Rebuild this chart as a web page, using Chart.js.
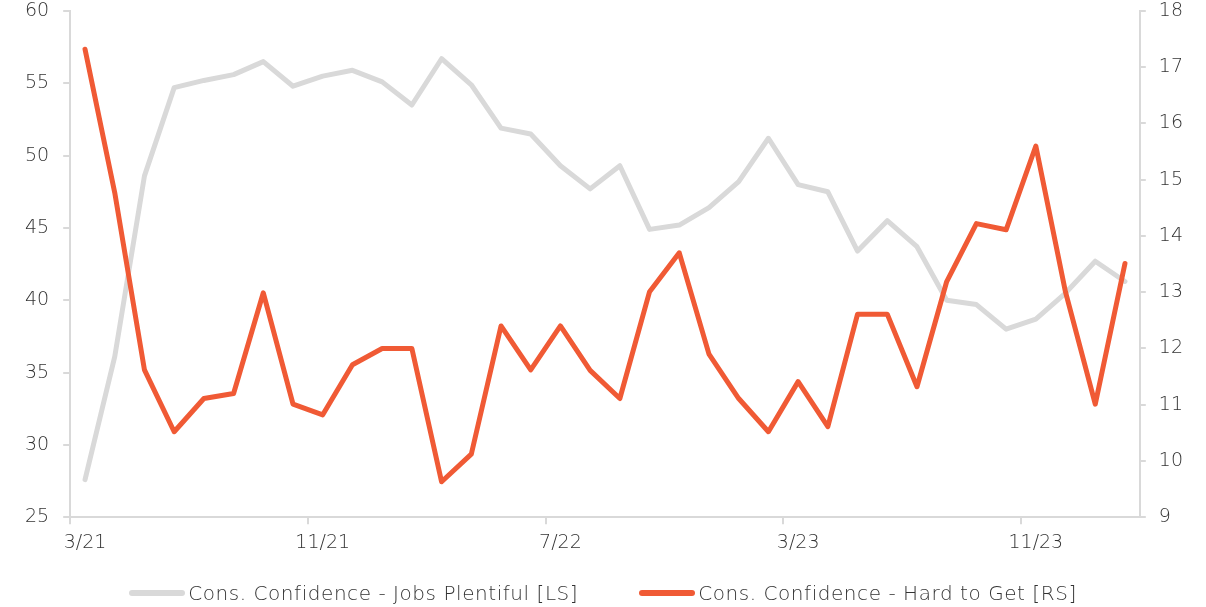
<!DOCTYPE html>
<html>
<head>
<meta charset="utf-8">
<script src="https://cdn.jsdelivr.net/npm/chart.js@4/dist/chart.umd.min.js"></script>
<style>
html,body{margin:0;padding:0;background:#fff;}
#wrap{width:1206px;height:607px;position:relative;}
#legend{position:absolute;left:0;top:580px;width:1206px;height:26px;display:flex;justify-content:center;align-items:center;gap:61px;
  font-family:'DejaVu Sans',sans-serif;font-weight:200;font-size:20px;letter-spacing:0.55px;color:#333;white-space:nowrap;}
#legend .item{display:flex;align-items:center;}
#legend .sw{display:inline-block;width:56px;height:6px;border-radius:3px;margin-right:3px;}
</style>
</head>
<body>
<div id="wrap"><canvas id="c" width="1206" height="607"></canvas><div id="legend"></div></div>
<script>
const labels = ["3/21","4/21","5/21","6/21","7/21","8/21","9/21","10/21","11/21","12/21",
  "1/22","2/22","3/22","4/22","5/22","6/22","7/22","8/22","9/22","10/22","11/22","12/22",
  "1/23","2/23","3/23","4/23","5/23","6/23","7/23","8/23","9/23","10/23","11/23","12/23",
  "1/24","2/24"];
const jobsPlentiful = [27.6,36.1,48.6,54.7,55.2,55.6,56.5,54.8,55.5,55.9,
  55.1,53.5,56.7,54.9,51.9,51.5,49.3,47.7,49.3,44.9,45.2,46.4,
  48.2,51.2,48.0,47.5,43.4,45.5,43.7,40.0,39.7,38.0,38.7,40.5,
  42.7,41.3];
const hardToGet = [17.32,14.77,11.62,10.52,11.11,11.20,12.99,11.01,10.82,11.71,
  12.0,12.0,9.63,10.12,12.40,11.62,12.40,11.61,11.11,13.01,13.70,11.90,
  11.11,10.52,11.41,10.61,12.61,12.61,11.32,13.19,14.22,14.11,15.60,13.0,
  11.01,13.51];
const labelEvery = 8;

const GRAY = '#d9d9d9';
const ORANGE = '#f05a35';
const TXT = '#333333';
const FONT = "'DejaVu Sans', sans-serif";
const tickFont = {family: FONT, size: 19, weight: 200};

const htmlLegend = {
  id: 'htmlLegend',
  afterUpdate(chart) {
    const box = document.getElementById('legend');
    box.innerHTML = '';
    chart.data.datasets.forEach((ds) => {
      const item = document.createElement('div');
      item.className = 'item';
      const sw = document.createElement('span');
      sw.className = 'sw';
      sw.style.background = ds.borderColor;
      const tx = document.createElement('span');
      tx.textContent = ds.label;
      item.appendChild(sw); item.appendChild(tx);
      box.appendChild(item);
    });
  }
};

const trimPad = (scale) => { scale.paddingTop = 11; scale.paddingBottom = 11; };

new Chart(document.getElementById('c'), {
  type: 'line',
  data: {
    labels: labels,
    datasets: [
      {label: 'Cons. Confidence - Jobs Plentiful [LS]', data: jobsPlentiful, yAxisID: 'y',
       borderColor: GRAY, backgroundColor: GRAY, borderWidth: 5, pointRadius: 0,
       borderCapStyle: 'round', borderJoinStyle: 'round', tension: 0, order: 1},
      {label: 'Cons. Confidence - Hard to Get [RS]', data: hardToGet, yAxisID: 'y1',
       borderColor: ORANGE, backgroundColor: ORANGE, borderWidth: 5, pointRadius: 0,
       borderCapStyle: 'round', borderJoinStyle: 'round', tension: 0, order: 0}
    ]
  },
  plugins: [htmlLegend],
  options: {
    responsive: false,
    animation: false,
    layout: {padding: {left: 11, right: 10, top: 0, bottom: 46}},
    plugins: {
      tooltip: {enabled: false},
      legend: {display: false}
    },
    scales: {
      x: {
        offset: true,
        grid: {offset: true, drawOnChartArea: false, lineWidth: 2, tickLength: 7,
               color: (ctx) => (ctx.index % labelEvery === 0 ? GRAY : 'rgba(0,0,0,0)')},
        border: {color: GRAY, width: 2},
        ticks: {
          autoSkip: false, maxRotation: 0, color: TXT, padding: 7, font: tickFont,
          callback: function(v, i) { return i % labelEvery === 0 ? labels[i] : ''; }
        }
      },
      y: {
        position: 'left', min: 25, max: 60,
        afterFit: trimPad,
        grid: {drawOnChartArea: false, color: GRAY, lineWidth: 2, tickLength: 7},
        border: {color: GRAY, width: 2},
        ticks: {stepSize: 5, color: TXT, padding: 14, font: tickFont}
      },
      y1: {
        position: 'right', min: 9, max: 18,
        afterFit: trimPad,
        grid: {drawOnChartArea: false, color: GRAY, lineWidth: 2, tickLength: 6},
        border: {color: GRAY, width: 2},
        ticks: {stepSize: 1, color: TXT, padding: 13, font: tickFont}
      }
    }
  }
});
</script>
</body>
</html>
